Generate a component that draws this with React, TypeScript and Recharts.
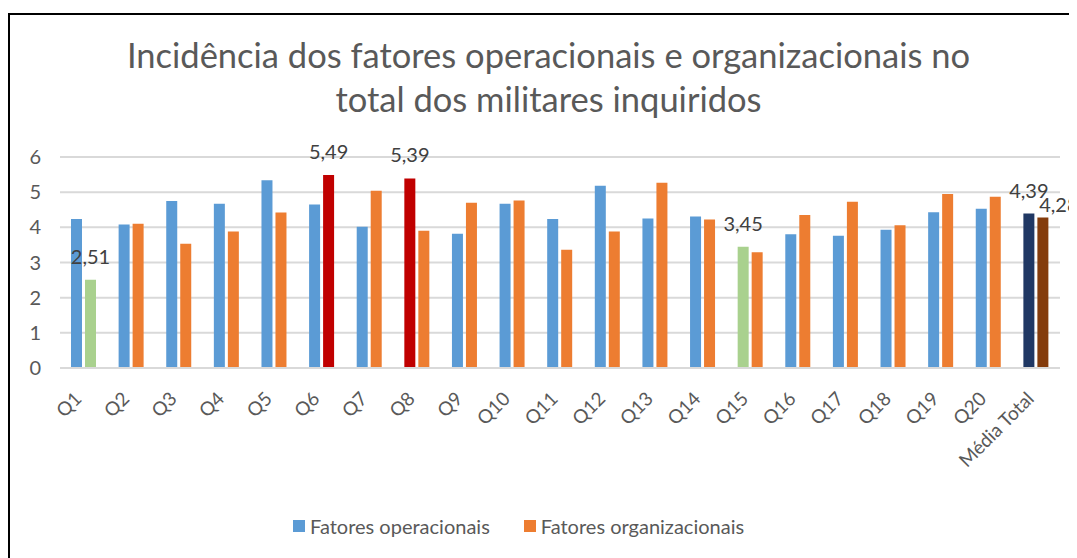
import React from 'react';
import { BarChart, Bar, XAxis, YAxis, CartesianGrid, Legend, Cell, LabelList } from 'recharts';

const categorias = ['Q1', 'Q2', 'Q3', 'Q4', 'Q5', 'Q6', 'Q7', 'Q8', 'Q9', 'Q10', 'Q11', 'Q12', 'Q13', 'Q14', 'Q15', 'Q16', 'Q17', 'Q18', 'Q19', 'Q20', 'Média Total'];
const fatoresOperacionais = [4.24, 4.08, 4.75, 4.67, 5.34, 4.65, 4.02, 5.39, 3.82, 4.67, 4.24, 5.18, 4.25, 4.31, 3.45, 3.80, 3.76, 3.93, 4.43, 4.53, 4.39];
const fatoresOrganizacionais = [2.51, 4.10, 3.53, 3.88, 4.42, 5.49, 5.04, 3.90, 4.70, 4.76, 3.36, 3.88, 5.27, 4.22, 3.29, 4.35, 4.73, 4.06, 4.95, 4.87, 4.28];
const yTicks = [0, 1, 2, 3, 4, 5, 6];

// categorias com rotulo de dados visivel
const rotulosOper = ['Q8', 'Q15', 'Média Total'];
const rotulosOrg = ['Q1', 'Q6', 'Média Total'];

// cores de destaque por categoria
const corOper: Record<string, string> = { Q8: '#C00000', Q15: '#A9D18E', 'Média Total': '#203864' };
const corOrg: Record<string, string> = { Q1: '#A9D18E', Q6: '#C00000', 'Média Total': '#843C0C' };

const fmt = (v: number) => v.toFixed(2).replace('.', ',');

const data = categorias.map((c, i) => ({
  name: c,
  oper: fatoresOperacionais[i],
  org: fatoresOrganizacionais[i],
  rotOper: rotulosOper.includes(c) ? fmt(fatoresOperacionais[i]) : '',
  rotOrg: rotulosOrg.includes(c) ? fmt(fatoresOrganizacionais[i]) : '',
}));

const FONT = 'Lato, sans-serif';
const GREY = '#595959';

const XTick = (props: any) => {
  const { x, y, payload } = props;
  return (
    <g transform={`translate(${x - 1},${y + 24})`}>
      <text textAnchor="end" transform="rotate(-45)" fill={GREY} fontSize={19} fontFamily={FONT}>
        {payload.value}
      </text>
    </g>
  );
};

const makeLabel = (shiftLast: boolean) => (props: any) => {
  const { x, y, width, value, index } = props;
  if (!value) return null;
  let dx = 0;
  let dy = 0;
  if (shiftLast && index === categorias.length - 1) {
    dx = 16;
    dy = 11;
  }
  return (
    <text x={x + width / 2 + dx} y={y - 16 + dy} textAnchor="middle" fill="#404040" fontSize={20} fontFamily={FONT}>
      {value}
    </text>
  );
};

const LegendContent = () => (
  <div style={{ display: 'flex', fontFamily: FONT, fontSize: 20, color: GREY, alignItems: 'center', lineHeight: '24px' }}>
    <span style={{ width: 12, height: 12, background: '#5B9BD5', marginRight: 5 }} />
    <span style={{ marginRight: 34 }}>Fatores operacionais</span>
    <span style={{ width: 12, height: 12, background: '#ED7D31', marginRight: 5 }} />
    <span>Fatores organizacionais</span>
  </div>
);

export default function App() {
  return (
    <div style={{ paddingTop: 5 }}>
      <div
        style={{
          position: 'relative',
          width: 1067,
          height: 543,
          borderLeft: '2px solid #000',
          borderTop: '2px solid #000',
          overflow: 'hidden',
          background: '#fff',
        }}
      >
        <div
          style={{
            position: 'absolute',
            left: 0,
            top: 18,
            width: 1077,
            textAlign: 'center',
            fontFamily: FONT,
            fontSize: 34.5,
            lineHeight: '44px',
            color: GREY,
          }}
        >
          Incidência dos fatores operacionais e organizacionais no
          <br />
          total dos militares inquiridos
        </div>
        <BarChart
          width={1067}
          height={543}
          data={data}
          margin={{ top: 142, right: 17, left: 0, bottom: 0 }}
          barSize={11}
          barGap={3}
        >
          <CartesianGrid vertical={false} stroke="#D9D9D9" strokeWidth={2} />
          <XAxis
            dataKey="name"
            interval={0}
            tick={<XTick />}
            tickLine={false}
            axisLine={{ stroke: '#D9D9D9', strokeWidth: 2 }}
            height={166}
          />
          <YAxis
            domain={[0, 6]}
            ticks={yTicks}
            width={50}
            tickLine={false}
            axisLine={false}
            tickSize={0}
            tickMargin={19}
            tick={{ fill: GREY, fontSize: 20, fontFamily: FONT }}
          />
          <Legend content={<LegendContent />} wrapperStyle={{ left: 283, top: 499, width: 'auto' }} />
          <Bar dataKey="oper" name="Fatores operacionais" fill="#5B9BD5" isAnimationActive={false}>
            {data.map((d) => (
              <Cell key={d.name} fill={corOper[d.name] || '#5B9BD5'} />
            ))}
            <LabelList dataKey="rotOper" content={makeLabel(false)} />
          </Bar>
          <Bar dataKey="org" name="Fatores organizacionais" fill="#ED7D31" isAnimationActive={false}>
            {data.map((d) => (
              <Cell key={d.name} fill={corOrg[d.name] || '#ED7D31'} />
            ))}
            <LabelList dataKey="rotOrg" content={makeLabel(true)} />
          </Bar>
        </BarChart>
      </div>
    </div>
  );
}
